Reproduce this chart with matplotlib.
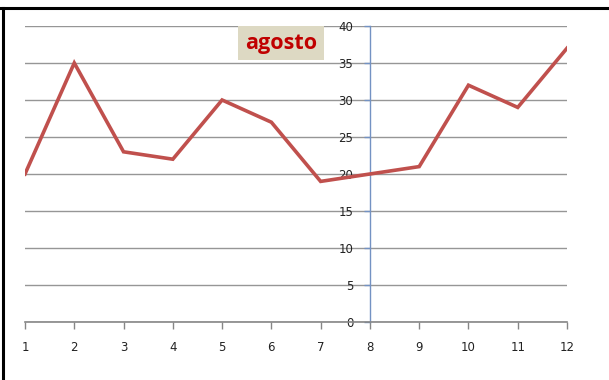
import matplotlib.pyplot as plt
from matplotlib.lines import Line2D

# datos del mes
dias = [1, 2, 3, 4, 5, 6, 7, 8, 9, 10, 11, 12]
valores = [20, 35, 23, 22, 30, 27, 19, 20, 21, 32, 29, 37]
y_ticks = [0, 5, 10, 15, 20, 25, 30, 35, 40]
titulo = "agosto"

W, H = 609, 380
fig = plt.figure(figsize=(W / 100, H / 100), dpi=100)
ax = fig.add_axes([25 / W, (H - 322) / H, (567 - 25) / W, (322 - 26) / H])

ax.plot(dias, valores, color="#C0504D", lw=2.6, solid_joinstyle="miter", zorder=3)

ax.set_xlim(1, 12)
ax.set_ylim(0, 40)
ax.set_xticks(dias)
ax.set_yticks(y_ticks)

# eje vertical cruzando en x = 8
ax.spines["left"].set_position(("data", 8))
ax.spines["left"].set_color("#7392C3")
ax.spines["left"].set_linewidth(1.0)
ax.spines["bottom"].set_color("#868686")
ax.spines["bottom"].set_linewidth(1.2)
ax.spines["top"].set_visible(False)
ax.spines["right"].set_visible(False)

ax.grid(axis="y", color="#969696", lw=1.0)
ax.set_axisbelow(True)

ax.tick_params(axis="x", direction="out", length=5, width=1, color="#868686",
               pad=9, labelsize=8.5, labelcolor="#222222")
ax.tick_params(axis="y", direction="out", length=4, width=1, color="#7392C3",
               pad=8, labelsize=8.5, labelcolor="#222222")

# título en caja
fig.text(281 / W, 1 - 43 / H, titulo, ha="center", va="center",
         fontsize=15.5, fontweight="bold", color="#C00000", family="Open Sans",
         bbox=dict(boxstyle="square,pad=0.3", fc="#DDD9C3", ec="none"))

# marco superior e izquierdo
fig.add_artist(Line2D([0, 1], [1 - 8 / H, 1 - 8 / H], color="black", lw=2.2,
                      transform=fig.transFigure))
fig.add_artist(Line2D([3 / W, 3 / W], [0, 1 - 8 / H], color="black", lw=2.2,
                      transform=fig.transFigure))

fig.savefig("out.png", dpi=100)
